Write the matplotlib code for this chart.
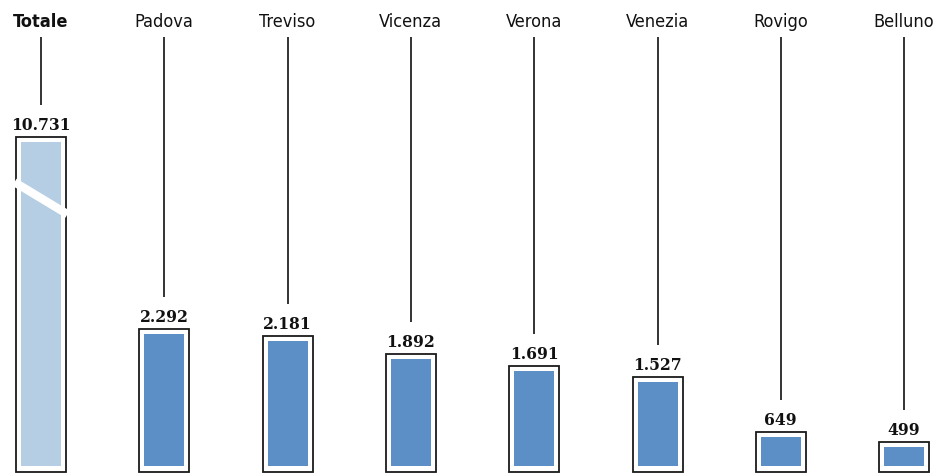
import matplotlib
matplotlib.use("Agg")
import matplotlib.pyplot as plt

categories = ["Totale", "Padova", "Treviso", "Vicenza", "Verona", "Venezia", "Rovigo", "Belluno"]
values = [10731, 2292, 2181, 1892, 1691, 1527, 649, 499]
value_labels = ["10.731", "2.292", "2.181", "1.892", "1.691", "1.527", "649", "499"]

W, H = 935, 473
fig = plt.figure(figsize=(W / 100, H / 100), dpi=100)
ax = fig.add_axes([0, 0, 1, 1])

# axis mapping
scale = 0.063          # px per unit
base_px = 478          # pixel row of value 0
x0_px, step_px = 41, 123.3
ymin = (base_px - H) / scale
ymax = base_px / scale
ax.set_ylim(ymin, ymax)
ax.set_xlim(-x0_px / step_px, (W - x0_px) / step_px)
ax.axis("off")

u = 1 / scale  # data units per pixel
cap = 5330     # display height of the broken "Totale" bar
inner_w = 40 / step_px
frame_w = 50 / step_px
fill_bottom = (base_px - 466) * u
frame_bottom = (base_px - 471.5) * u

dark = "#5b8fc5"
light = "#b5cee4"

for i, (cat, v, lab) in enumerate(zip(categories, values, value_labels)):
    h = min(v, cap)
    col = light if i == 0 else dark
    ax.bar(i, h - fill_bottom, bottom=fill_bottom, width=inner_w, color=col, zorder=2)
    ftop = h + 5 * u
    ax.bar(i, ftop - frame_bottom, bottom=frame_bottom, width=frame_w,
           facecolor="none", edgecolor="#1a1a1a", linewidth=1.3, zorder=3)
    ax.text(i, ftop + 3 * u, lab, ha="center", va="bottom",
            family="DejaVu Serif", fontweight="bold", fontsize=12.5,
            fontstretch="condensed", color="#111111", zorder=4)
    ax.text(i, (base_px - 22) * u, cat, ha="center", va="center",
            family="DejaVu Sans", fontweight="heavy" if i == 0 else "medium",
            fontsize=13, fontstretch="condensed", color="#111111")
    ax.vlines(i, ftop + 32 * u, (base_px - 37) * u, color="#111111", linewidth=1.2, zorder=1)

# break mark on the total bar
bx = [-0.215, 0.215]
by = [cap - (182 - 142) * u, cap - (214 - 142) * u]
ax.plot(bx, by, color="white", linewidth=6, solid_capstyle="butt", zorder=5)

fig.savefig("out.png", dpi=100)
